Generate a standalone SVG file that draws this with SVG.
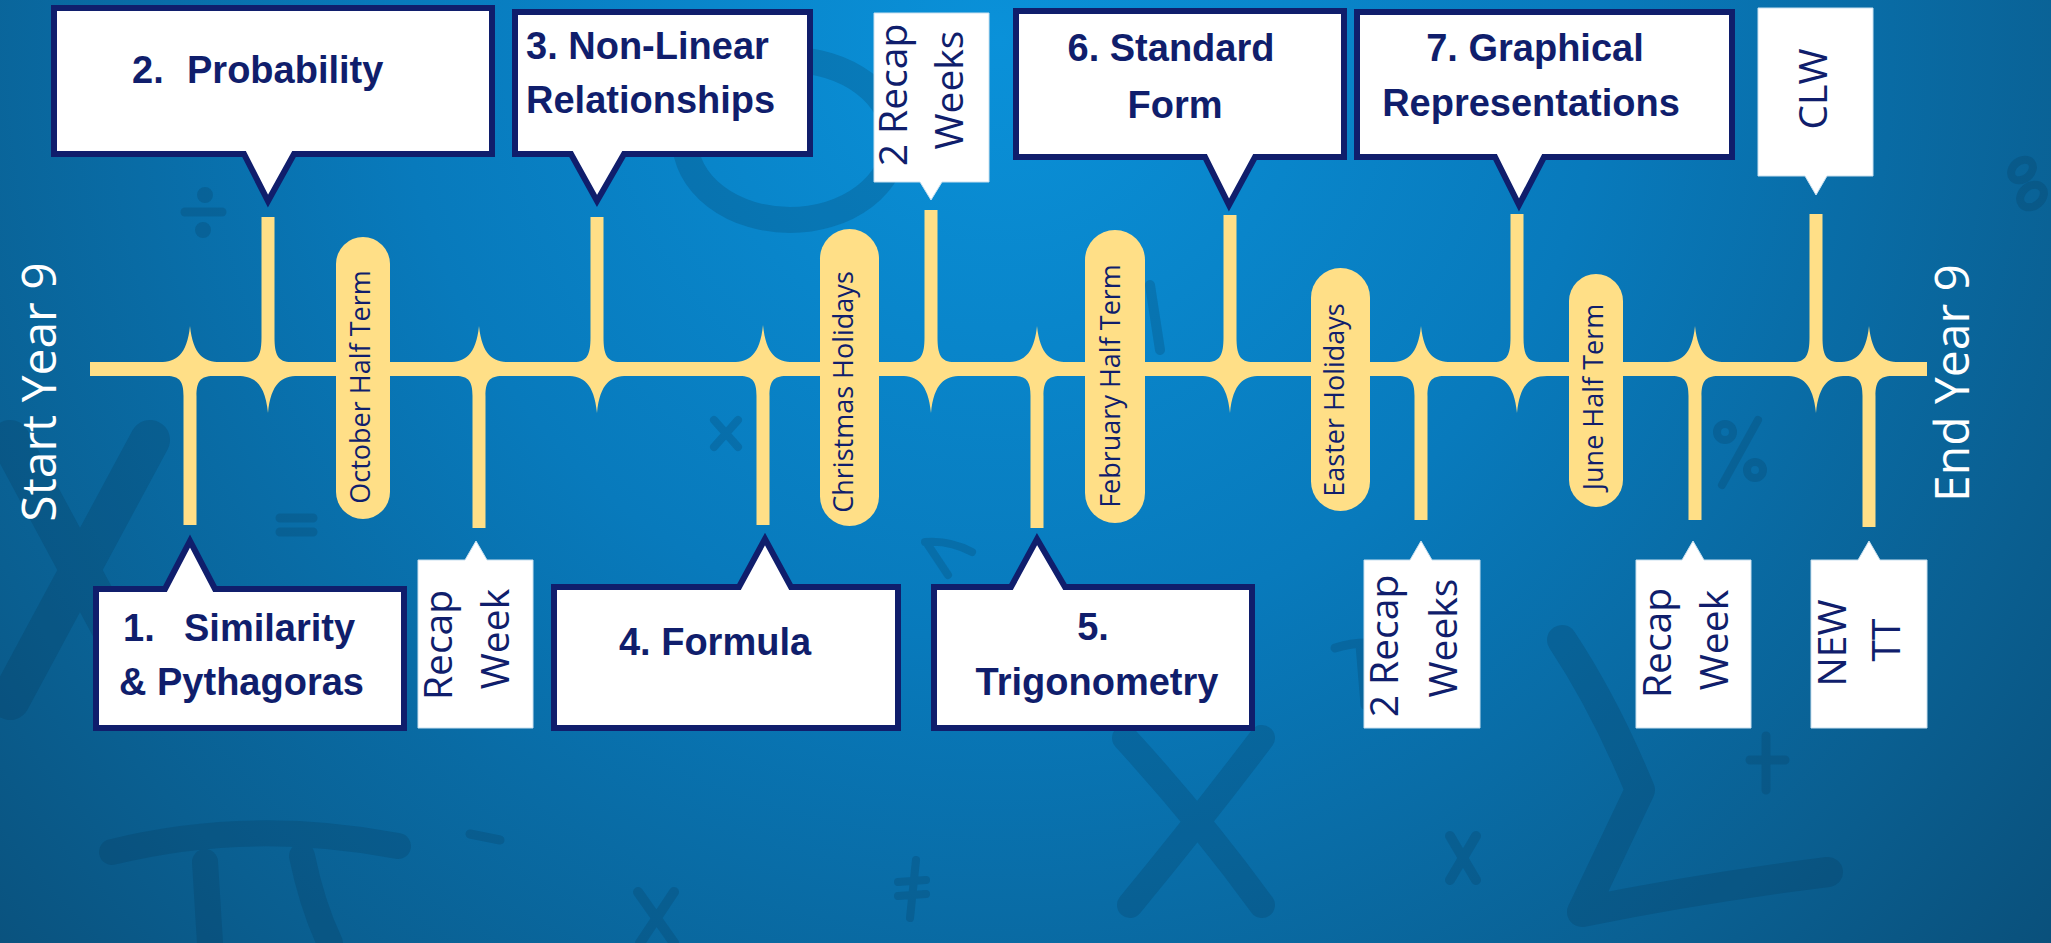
<svg xmlns="http://www.w3.org/2000/svg" width="2051" height="943" viewBox="0 0 2051 943">
<defs>
<radialGradient id="bg" gradientUnits="userSpaceOnUse" cx="1000" cy="40" r="1500">
<stop offset="0" stop-color="#0a91d9"/>
<stop offset="0.4" stop-color="#087abc"/>
<stop offset="0.75" stop-color="#0a5f91"/>
<stop offset="1" stop-color="#0a4a72"/>
</radialGradient>
<style>
.y{fill:#ffdf87}
.bx{fill:#fff;stroke:#101e6c;stroke-width:6;stroke-linejoin:miter;stroke-miterlimit:10}
.pl{fill:#fff;stroke:#c9e0ef;stroke-width:1}
.lb{font-family:"Liberation Sans",Arial,sans-serif;font-weight:bold;font-size:38px;fill:#101e6c}
.vt{font-family:"Open Sans","DejaVu Sans",sans-serif;font-size:39px;fill:#101e6c;text-anchor:middle}
.pt{font-family:"Open Sans","DejaVu Sans",sans-serif;font-size:27px;fill:#101e6c;text-anchor:middle}
.se{font-family:"Open Sans","DejaVu Sans",sans-serif;font-size:48px;fill:#ffffff;text-anchor:middle}
.m{text-anchor:middle}
.sy{fill:none;stroke:#05324f;stroke-linecap:round;stroke-linejoin:round;opacity:0.2}
</style>
</defs>
<rect x="0" y="0" width="2051" height="943" fill="url(#bg)"/>

<g id="background-marks">
<path class="sy" stroke-width="40" d="M10,440 L150,700 M150,440 L10,700"/>
<path class="sy" stroke-width="26" d="M112,852 Q250,818 398,846 M205,862 L210,943 M302,856 Q312,905 330,943"/>
<path class="sy" stroke-width="10" d="M638,892 L674,943 M674,892 L640,943"/>
<path class="sy" stroke-width="10" d="M1450,836 L1476,880 M1476,836 L1450,880"/>
<path class="sy" stroke-width="8" d="M898,882 L926,880 M898,896 L926,894 M916,860 L910,918"/>
<path class="sy" stroke-width="9" d="M470,834 L500,840"/>
<path class="sy" stroke-width="9" d="M1766,736 L1766,790 M1750,760 L1785,760"/>
<path class="sy" stroke-width="30" d="M1562,640 Q1605,705 1640,790 L1582,912 Q1700,888 1828,872"/>
<path class="sy" stroke-width="26" d="M1125,738 Q1200,820 1262,905 M1262,738 Q1200,820 1130,905"/>
<path class="sy" stroke-width="9" d="M185,212 L222,212"/>
<circle class="sy" cx="205" cy="195" r="4" stroke-width="8"/>
<circle class="sy" cx="203" cy="230" r="4" stroke-width="8"/>
<path class="sy" stroke-width="9" d="M280,518 L313,518 M280,532 L313,532"/>
<path class="sy" stroke-width="8" d="M714,420 L738,447 M738,420 L714,447"/>
<path class="sy" stroke-width="8" d="M925,542 Q950,540 972,552 M928,545 L948,575"/>
<path class="sy" stroke-width="9" d="M1335,648 Q1360,640 1390,645 M1360,645 L1365,705"/>
<circle class="sy" cx="1725" cy="432" r="8" stroke-width="8"/>
<circle class="sy" cx="1755" cy="470" r="8" stroke-width="8"/>
<path class="sy" stroke-width="8" d="M1758,420 L1722,485"/>
<ellipse class="sy" cx="2022" cy="170" rx="12" ry="9" stroke-width="8" transform="rotate(-40 2022 170)"/>
<ellipse class="sy" cx="2032" cy="196" rx="13" ry="10" stroke-width="8" transform="rotate(-40 2032 196)"/>
<ellipse class="sy" cx="790" cy="140" rx="105" ry="80" stroke-width="26" opacity="0.12"/>
<path class="sy" stroke-width="10" d="M1150,285 L1160,350"/>
</g>

<g id="connectors">
<rect class="y" x="90" y="362" width="1837" height="14"/>
<path class="y" d="M160,362 C176,362 187,355 190,326 C193,355 204,362 220,362 Z"/>
<path class="y" d="M167,376 C180,376 183.5,382 183.5,396 L183.5,525 L196.5,525 L196.5,396 C196.5,382 200,376 213,376 Z"/>
<path class="y" d="M245,362 C258,362 261.5,355 261.5,337 L261.5,217 L274.5,217 L274.5,337 C274.5,355 278,362 291,362 Z"/>
<path class="y" d="M238,376 C254,376 265,383 268,413 C271,383 282,376 298,376 Z"/>
<path class="y" d="M449,362 C465,362 476,355 479,326 C482,355 493,362 509,362 Z"/>
<path class="y" d="M456,376 C469,376 472.5,382 472.5,396 L472.5,528 L485.5,528 L485.5,396 C485.5,382 489,376 502,376 Z"/>
<path class="y" d="M574,362 C587,362 590.5,355 590.5,337 L590.5,217 L603.5,217 L603.5,337 C603.5,355 607,362 620,362 Z"/>
<path class="y" d="M567,376 C583,376 594,383 597,413 C600,383 611,376 627,376 Z"/>
<path class="y" d="M733,362 C749,362 760,355 763,325 C766,355 777,362 793,362 Z"/>
<path class="y" d="M740,376 C753,376 756.5,382 756.5,396 L756.5,525 L769.5,525 L769.5,396 C769.5,382 773,376 786,376 Z"/>
<path class="y" d="M908,362 C921,362 924.5,355 924.5,337 L924.5,210 L937.5,210 L937.5,337 C937.5,355 941,362 954,362 Z"/>
<path class="y" d="M901,376 C917,376 928,383 931,413 C934,383 945,376 961,376 Z"/>
<path class="y" d="M1007,362 C1023,362 1034,355 1037,326 C1040,355 1051,362 1067,362 Z"/>
<path class="y" d="M1014,376 C1027,376 1030.5,382 1030.5,396 L1030.5,528 L1043.5,528 L1043.5,396 C1043.5,382 1047,376 1060,376 Z"/>
<path class="y" d="M1207,362 C1220,362 1223.5,355 1223.5,337 L1223.5,215 L1236.5,215 L1236.5,337 C1236.5,355 1240,362 1253,362 Z"/>
<path class="y" d="M1200,376 C1216,376 1227,383 1230,413 C1233,383 1244,376 1260,376 Z"/>
<path class="y" d="M1391,362 C1407,362 1418,355 1421,326 C1424,355 1435,362 1451,362 Z"/>
<path class="y" d="M1398,376 C1411,376 1414.5,382 1414.5,396 L1414.5,520 L1427.5,520 L1427.5,396 C1427.5,382 1431,376 1444,376 Z"/>
<path class="y" d="M1494,362 C1507,362 1510.5,355 1510.5,337 L1510.5,214 L1523.5,214 L1523.5,337 C1523.5,355 1527,362 1540,362 Z"/>
<path class="y" d="M1487,376 C1503,376 1514,383 1517,413 C1520,383 1531,376 1547,376 Z"/>
<path class="y" d="M1665,362 C1681,362 1692,355 1695,326 C1698,355 1709,362 1725,362 Z"/>
<path class="y" d="M1672,376 C1685,376 1688.5,382 1688.5,396 L1688.5,520 L1701.5,520 L1701.5,396 C1701.5,382 1705,376 1718,376 Z"/>
<path class="y" d="M1793,362 C1806,362 1809.5,355 1809.5,337 L1809.5,214 L1822.5,214 L1822.5,337 C1822.5,355 1826,362 1839,362 Z"/>
<path class="y" d="M1786,376 C1802,376 1813,383 1816,413 C1819,383 1830,376 1846,376 Z"/>
<path class="y" d="M1839,362 C1855,362 1866,355 1869,326 C1872,355 1883,362 1899,362 Z"/>
<path class="y" d="M1846,376 C1859,376 1862.5,382 1862.5,396 L1862.5,527 L1875.5,527 L1875.5,396 C1875.5,382 1879,376 1892,376 Z"/>
</g>

<g id="holidays">
<g id="oct"><rect class="y" x="336" y="237" width="54" height="282" rx="27"/><text class="pt" transform="translate(370,387) rotate(-90)">October Half Term</text></g>
<g id="xmas"><rect class="y" x="820" y="229" width="59" height="297" rx="29.5"/><text class="pt" transform="translate(853,392) rotate(-90)">Christmas Holidays</text></g>
<g id="feb"><rect class="y" x="1085" y="230" width="60" height="293" rx="30"/><text class="pt" transform="translate(1120,386) rotate(-90)">February Half Term</text></g>
<g id="easter"><rect class="y" x="1311" y="268" width="59" height="243" rx="29.5"/><text class="pt" transform="translate(1344,400) rotate(-90)">Easter Holidays</text></g>
<g id="june"><rect class="y" x="1569" y="274" width="54" height="233" rx="27"/><text class="pt" transform="translate(1603,397) rotate(-90)">June Half Term</text></g>
</g>

<g id="start"><text class="se" transform="translate(56,392) rotate(-90)">Start Year 9</text></g>
<g id="end"><text class="se" transform="translate(1969,383) rotate(-90)">End Year 9</text></g>

<g id="n2">
<path class="bx" d="M54,8 H492 V154 H294 L268,201 L244,154 H54 Z"/>
<text class="lb" y="83"><tspan x="132">2.</tspan><tspan x="187">Probability</tspan></text>
</g>
<g id="n3">
<path class="bx" d="M515,12 H810 V154 H624 L597,201 L571,154 H515 Z"/>
<text class="lb" x="526" y="59">3. Non-Linear</text>
<text class="lb" x="526" y="113">Relationships</text>
</g>
<g id="recap-top">
<path class="pl" d="M874,13 H989 V182 H942 L931,200 L920,182 H874 Z"/>
<text class="vt" transform="translate(907,95) rotate(-90)">2 Recap</text>
<text class="vt" transform="translate(963,90) rotate(-90)">Weeks</text>
</g>
<g id="n6">
<path class="bx" d="M1016,11 H1344 V157 H1255 L1229,205 L1205,157 H1016 Z"/>
<text class="lb m" x="1171" y="61">6. Standard</text>
<text class="lb m" x="1175" y="118">Form</text>
</g>
<g id="n7">
<path class="bx" d="M1357,12 H1732 V157 H1544 L1519,205 L1495,157 H1357 Z"/>
<text class="lb m" x="1535" y="61">7. Graphical</text>
<text class="lb m" x="1531" y="116">Representations</text>
</g>
<g id="clw">
<path class="pl" d="M1758,8 H1873 V176 H1827 L1816,195 L1805,176 H1758 Z"/>
<text class="vt" transform="translate(1827,89) rotate(-90)">CLW</text>
</g>

<g id="n1">
<path class="bx" d="M96,589 H165 L190,541 L215,589 H404 V728 H96 Z"/>
<text class="lb" y="641"><tspan x="123">1.</tspan><tspan x="184">Similarity</tspan></text>
<text class="lb" x="119" y="695">&amp; Pythagoras</text>
</g>
<g id="recap1">
<path class="pl" d="M418,560 H465 L476,541 L487,560 H533 V728 H418 Z"/>
<text class="vt" transform="translate(452,645) rotate(-90)">Recap</text>
<text class="vt" transform="translate(509,639) rotate(-90)">Week</text>
</g>
<g id="n4">
<path class="bx" d="M554,587 H739 L765,539 L791,587 H898 V728 H554 Z"/>
<text class="lb m" x="715" y="655">4. Formula</text>
</g>
<g id="n5">
<path class="bx" d="M934,587 H1011 L1037,539 L1065,587 H1252 V728 H934 Z"/>
<text class="lb m" x="1093" y="640">5.</text>
<text class="lb m" x="1097" y="695">Trigonometry</text>
</g>
<g id="recap2">
<path class="pl" d="M1364,560 H1410 L1421,541 L1432,560 H1480 V728 H1364 Z"/>
<text class="vt" transform="translate(1398,646) rotate(-90)">2 Recap</text>
<text class="vt" transform="translate(1457,638) rotate(-90)">Weeks</text>
</g>
<g id="recap3">
<path class="pl" d="M1636,560 H1682 L1693,541 L1704,560 H1751 V728 H1636 Z"/>
<text class="vt" transform="translate(1671,643) rotate(-90)">Recap</text>
<text class="vt" transform="translate(1728,640) rotate(-90)">Week</text>
</g>
<g id="newtt">
<path class="pl" d="M1811,560 H1858 L1869,541 L1880,560 H1927 V728 H1811 Z"/>
<text class="vt" transform="translate(1846,643) rotate(-90)">NEW</text>
<text class="vt" transform="translate(1900,640) rotate(-90)">TT</text>
</g>
</svg>
